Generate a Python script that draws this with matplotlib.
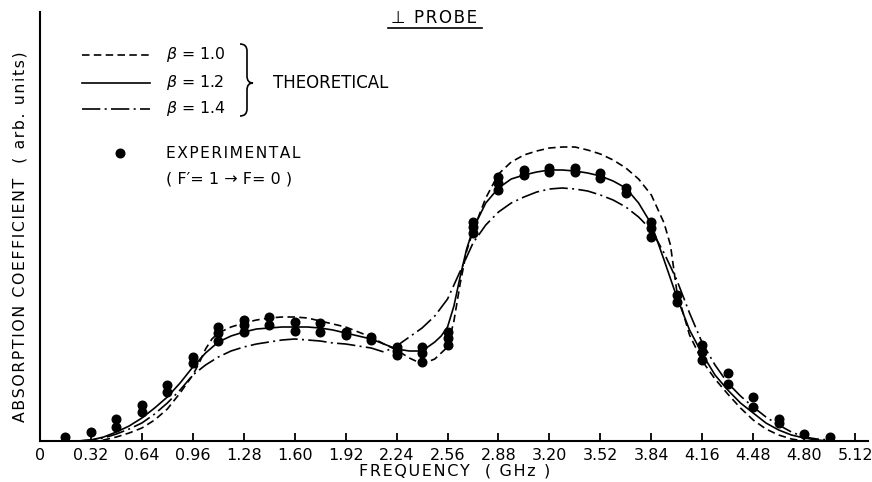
import matplotlib
matplotlib.use("Agg")
import matplotlib.pyplot as plt
from matplotlib.lines import Line2D
from matplotlib.path import Path
from matplotlib.patches import PathPatch

W, H = 872, 482

# experimental points (frequency in GHz, absorption in arb. units)
exp_freq = [0.16, 0.32, 0.48, 0.48, 0.64, 0.64, 0.80, 0.80, 0.96, 0.96,
            1.12, 1.12, 1.12, 1.28, 1.28, 1.28, 1.44, 1.44, 1.60, 1.60,
            1.76, 1.76, 1.92, 1.92, 2.08, 2.08, 2.24, 2.24, 2.24,
            2.40, 2.40, 2.40, 2.56, 2.56, 2.56, 2.72, 2.72, 2.72,
            2.88, 2.88, 2.88, 3.04, 3.04, 3.20, 3.20, 3.36, 3.36,
            3.52, 3.52, 3.68, 3.68, 3.84, 3.84, 3.84, 4.00, 4.00,
            4.16, 4.16, 4.16, 4.32, 4.32, 4.48, 4.48, 4.64, 4.64, 4.80, 4.96]
exp_abs = [4, 9, 22, 14, 36, 29, 56, 49, 84, 78,
           114, 108, 100, 121, 116, 109, 124, 116, 119, 110,
           118, 109, 109, 106, 104, 101, 94, 90, 86,
           94, 88, 79, 109, 103, 96, 219, 214, 208,
           264, 258, 251, 271, 266, 273, 269, 273, 269,
           268, 263, 253, 248, 219, 213, 204, 146, 139,
           96, 89, 81, 68, 57, 44, 34, 22, 18, 7, 4]

# theoretical curves
f_b10 = [0.32, 0.40, 0.48, 0.56, 0.64, 0.72, 0.80, 0.88, 0.96, 1.00, 1.04, 1.08,
         1.12, 1.20, 1.28, 1.36, 1.44, 1.52, 1.60, 1.68, 1.76, 1.84, 1.92, 2.00,
         2.08, 2.16, 2.24, 2.32, 2.40, 2.48, 2.56, 2.60, 2.64, 2.68, 2.72, 2.80,
         2.88, 2.96, 3.04, 3.12, 3.20, 3.28, 3.36, 3.44, 3.52, 3.60, 3.68, 3.76,
         3.84, 3.92, 3.96, 4.00, 4.08, 4.16, 4.24, 4.32, 4.40, 4.48, 4.56, 4.64,
         4.72, 4.80]
a_b10 = [0, 1, 4, 8, 13, 21, 32, 48, 66, 78, 92, 102,
         108, 114, 118, 121, 123, 124, 124, 123, 120, 117, 114, 109,
         104, 97, 91, 83, 77, 82, 94, 120, 158, 190, 210, 243,
         267, 279, 286, 290, 293, 294, 294, 291, 287, 281, 273, 262,
         246, 218, 196, 150, 106, 80, 62, 47, 33, 21, 12, 6,
         2, 0]

f_b12 = [0.16, 0.24, 0.32, 0.40, 0.48, 0.56, 0.64, 0.72, 0.80, 0.88, 0.96, 1.04,
         1.12, 1.20, 1.28, 1.36, 1.44, 1.52, 1.60, 1.68, 1.76, 1.84, 1.92, 2.00,
         2.08, 2.16, 2.24, 2.32, 2.40, 2.48, 2.52, 2.56, 2.60, 2.64, 2.68, 2.72,
         2.80, 2.88, 2.96, 3.04, 3.12, 3.20, 3.28, 3.36, 3.44, 3.52, 3.60, 3.68,
         3.76, 3.84, 3.92, 4.00, 4.08, 4.16, 4.24, 4.32, 4.40, 4.48, 4.56, 4.64,
         4.72, 4.80, 4.88, 4.96, 5.04]
a_b12 = [0, 0, 1, 4, 9, 15, 23, 33, 44, 58, 74, 88,
         99, 105, 109, 112, 113, 114, 114, 114, 113, 111, 108, 105,
         102, 97, 92, 90, 90, 99, 105, 114, 135, 165, 192, 212,
         238, 253, 262, 266, 269, 271, 271, 270, 268, 265, 260, 253,
         238, 217, 181, 144, 111, 87, 66, 51, 38, 28, 18, 11,
         6, 3, 1, 0, 0]

f_b14 = [0.24, 0.32, 0.40, 0.48, 0.56, 0.64, 0.72, 0.80, 0.88, 0.96, 1.04, 1.12,
         1.20, 1.28, 1.36, 1.44, 1.52, 1.60, 1.68, 1.76, 1.84, 1.92, 2.00, 2.08,
         2.16, 2.24, 2.32, 2.40, 2.48, 2.56, 2.64, 2.72, 2.80, 2.88, 2.96, 3.04,
         3.12, 3.20, 3.28, 3.36, 3.44, 3.52, 3.60, 3.68, 3.76, 3.84, 3.92, 4.00,
         4.08, 4.16, 4.24, 4.32, 4.40, 4.48, 4.56, 4.64, 4.72, 4.80, 4.88, 4.96, 5.00]
a_b14 = [0, 1, 3, 7, 12, 18, 27, 38, 51, 66, 76, 84,
         90, 94, 97, 99, 101, 102, 101, 100, 98, 97, 95, 93,
         89, 95, 104, 113, 125, 142, 170, 198, 216, 229, 238, 244,
         249, 252, 253, 252, 250, 246, 241, 234, 224, 211, 188, 161,
         128, 98, 76, 58, 45, 34, 24, 16, 9, 4, 2, 1, 0]

tick_vals = [0, 0.32, 0.64, 0.96, 1.28, 1.60, 1.92, 2.24, 2.56, 2.88, 3.20,
             3.52, 3.84, 4.16, 4.48, 4.80, 5.12]
tick_labels = ["0", "0.32", "0.64", "0.96", "1.28", "1.60", "1.92", "2.24", "2.56",
               "2.88", "3.20", "3.52", "3.84", "4.16", "4.48", "4.80", "5.12"]

plt.rcParams['font.family'] = ['DejaVu Sans']
plt.rcParams['mathtext.fontset'] = 'dejavusans'


def spaced(s):
    # lettering in the original is loosely spaced
    return '\u200a'.join(s)


fig = plt.figure(figsize=(W / 100, H / 100), dpi=100)
ax = fig.add_axes([40 / W, 41 / H, 828 / W, 429 / H])

lw = 1.2
dash_style = (0, (4.5, 2.6))
dashdot_style = (0, (11, 2.6, 1.2, 2.6))

ax.plot(f_b10, a_b10, color='black', lw=lw, linestyle=dash_style)
ax.plot(f_b12, a_b12, color='black', lw=lw)
ax.plot(f_b14, a_b14, color='black', lw=lw, linestyle=dashdot_style)
ax.plot(exp_freq, exp_abs, 'o', color='black', ms=6.2, mec='black')

ax.set_xlim(0, 828 / 159.2)
ax.set_ylim(0, 429)
ax.set_xticks(tick_vals)
ax.set_xticklabels(tick_labels)
ax.set_yticks([])
ax.tick_params(axis='x', direction='in', length=6, width=1.3, pad=5, labelsize=11.5)
for s in ['top', 'right']:
    ax.spines[s].set_visible(False)
for s in ['left', 'bottom']:
    ax.spines[s].set_linewidth(1.5)


def P(x, y):
    return (x / W, 1 - y / H)


fig.text(*P(20, 237), spaced("ABSORPTION COEFFICIENT  ( arb. units)"), rotation=90,
         ha='center', va='center', fontsize=11.3)
fig.text(*P(455, 471), spaced("FREQUENCY  ( GHz )"), ha='center', va='center', fontsize=11.5)

fig.text(*P(434, 18), spaced("⊥ PROBE"), ha='center', va='center', fontsize=12)
fig.add_artist(Line2D([388 / W, 482 / W], [1 - 28 / H, 1 - 28 / H],
                      color='black', lw=1.2, transform=fig.transFigure))

# legend
rows = [(55, dash_style, "$\\beta$ = 1.0"), (83, '-', "$\\beta$ = 1.2"),
        (109, dashdot_style, "$\\beta$ = 1.4")]
for y, ls, lab in rows:
    fig.add_artist(Line2D([82 / W, 150 / W], [1 - y / H, 1 - y / H], color='black',
                          lw=lw, linestyle=ls, transform=fig.transFigure))
    fig.text(*P(166, y), lab, ha='left', va='center', fontsize=11.3)

brace = [P(240, 44), P(247, 44), P(247, 51), P(247, 76), P(247, 83), P(253, 83),
         P(247, 83), P(247, 90), P(247, 109), P(247, 116), P(240, 116)]
codes = [Path.MOVETO, Path.CURVE3, Path.CURVE3, Path.LINETO, Path.CURVE3, Path.CURVE3,
         Path.CURVE3, Path.CURVE3, Path.LINETO, Path.CURVE3, Path.CURVE3]
fig.add_artist(PathPatch(Path(brace, codes), fill=False, lw=1.2, color='black',
                         transform=fig.transFigure))
fig.text(*P(273, 83), "THEORETICAL", ha='left', va='center', fontsize=12)

fig.add_artist(Line2D([120 / W], [1 - 153 / H], marker='o', ms=6.2, color='black',
                      transform=fig.transFigure))
fig.text(*P(166, 153), spaced("EXPERIMENTAL"), ha='left', va='center', fontsize=11.2)
fig.text(*P(166, 179), "( F′= 1 → F= 0 )", ha='left', va='center', fontsize=11.5)

fig.savefig("out.png", dpi=100)
